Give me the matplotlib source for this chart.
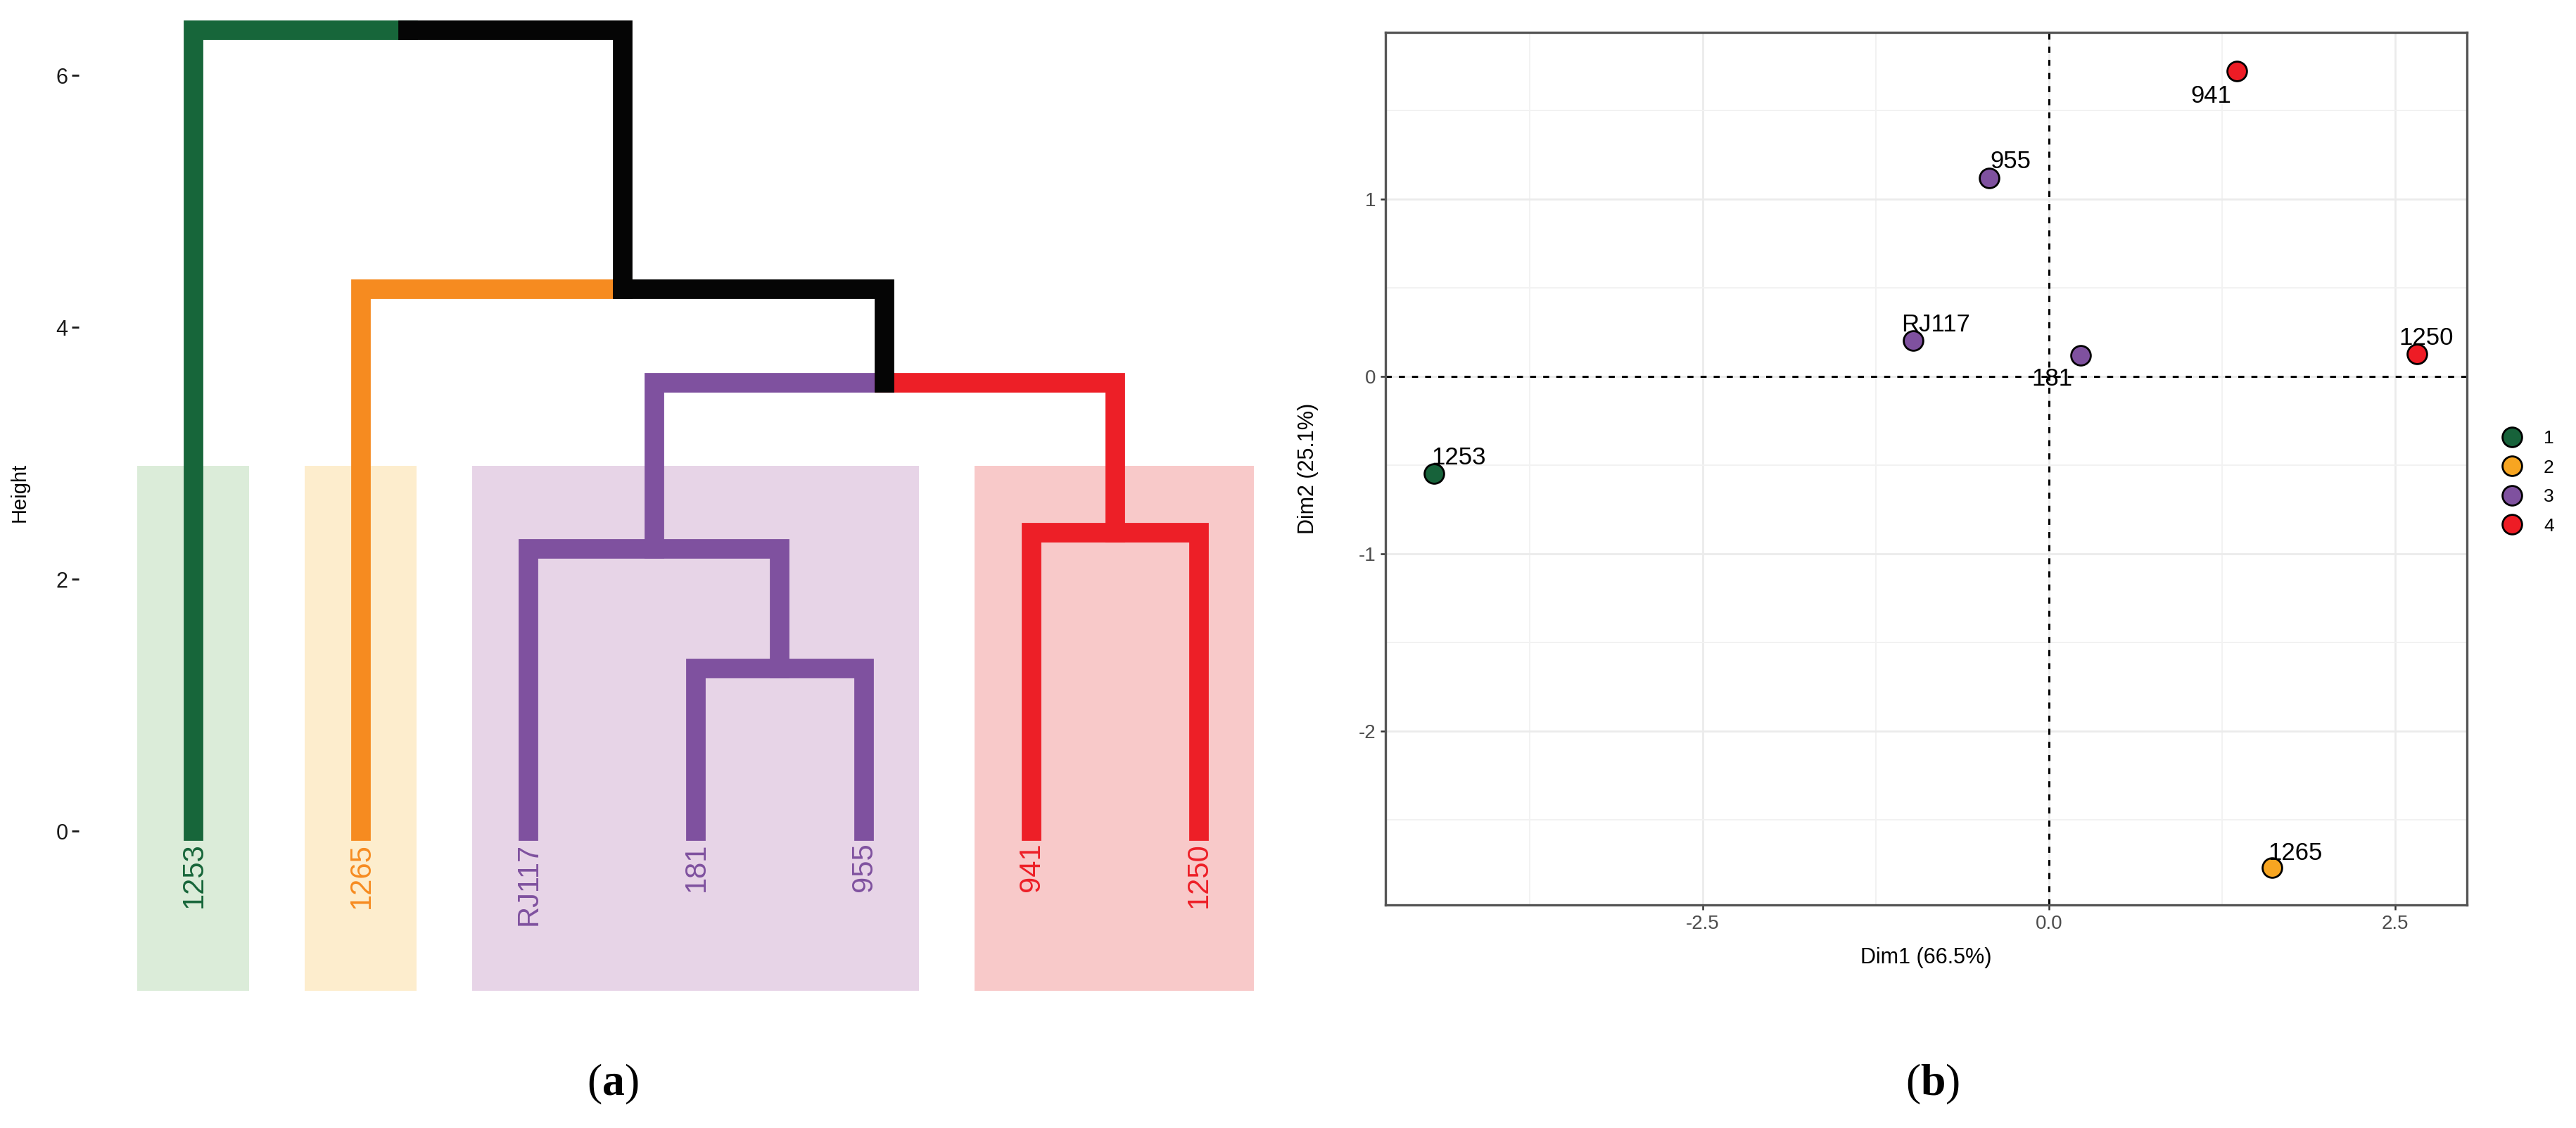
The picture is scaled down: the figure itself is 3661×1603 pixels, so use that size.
import matplotlib.pyplot as plt
from matplotlib.lines import Line2D
from matplotlib.patches import Rectangle

plt.rcParams['font.family'] = ['Liberation Sans', 'DejaVu Sans']
plt.rcParams['axes.unicode_minus'] = False
plt.rcParams['mathtext.fontset'] = 'custom'
plt.rcParams['mathtext.rm'] = 'Liberation Serif'
plt.rcParams['mathtext.bf'] = 'Liberation Serif:bold'

# ---- dendrogram data (leaf order left to right) ----
leaves = ["1253", "1265", "RJ117", "181", "955", "941", "1250"]
leaf_cluster = [1, 2, 3, 3, 3, 4, 4]
# merges: children indices (0..6 leaves, 7.. merges) and heights
merge_a = [3, 2, 5, 8, 1, 0]
merge_b = [4, 7, 6, 9, 10, 11]
merge_h = [1.29, 2.24, 2.37, 3.56, 4.30, 6.36]
height_ticks = [0, 2, 4, 6]

# ---- PCA individuals ----
pca_names = ["1253", "1265", "RJ117", "181", "955", "941", "1250"]
dim1 = [-4.44, 1.61, -0.98, 0.23, -0.43, 1.36, 2.66]
dim2 = [-0.55, -2.77, 0.20, 0.12, 1.12, 1.72, 0.125]
pca_cluster = [1, 2, 3, 3, 3, 4, 4]
cluster_names = ["1", "2", "3", "4"]

line_cols = {0: "#050505", 1: "#17663A", 2: "#F68B20", 3: "#7F519F", 4: "#ED1F27"}
rect_cols = {1: "#DBECD9", 2: "#FDEDCD", 3: "#E7D4E7", 4: "#F8C9C9"}
point_cols = {1: "#17623A", 2: "#F7A521", 3: "#7F519F", 4: "#EE1C25"}

# label offsets (points) and alignment for the PCA text labels
lab_style = {
    "1253": (-1.4, 4.7, "left"),
    "1265": (-1.8, 4.0, "left"),
    "RJ117": (-6.1, 5.0, "left"),
    "181": (-4.0, -15.5, "right"),
    "955": (0.4, 5.0, "left"),
    "941": (-2.9, -16.2, "right"),
    "1250": (-9.4, 4.7, "left"),
}

fig = plt.figure(figsize=(18.31, 8.015), dpi=200)

# ================= (a) dendrogram =================
ax1 = fig.add_axes([0.03058, 0.1069, 0.4736, 0.8877])

n = len(leaves)
node_x = [i + 1.0 for i in range(n)]
node_h = [0.0] * n
node_c = list(leaf_cluster)
for a, b, h in zip(merge_a, merge_b, merge_h):
    node_x.append((node_x[a] + node_x[b]) / 2)
    node_h.append(h)
    node_c.append(node_c[a] if node_c[a] == node_c[b] else 0)

# cluster rectangles
for k in sorted(set(leaf_cluster)):
    pos = [node_x[i] for i in range(n) if leaf_cluster[i] == k]
    x0, x1 = min(pos) - 0.34, max(pos) + 0.33
    ax1.add_patch(Rectangle((x0, -1.27), x1 - x0, 2.90 + 1.27,
                            facecolor=rect_cols[k], edgecolor="none", zorder=0))

for m, (a, b, h) in enumerate(zip(merge_a, merge_b, merge_h)):
    xm = node_x[n + m]
    for c in (a, b):
        ax1.plot([node_x[c], node_x[c], xm], [node_h[c], h, h],
                 color=line_cols[node_c[c]], lw=10,
                 solid_joinstyle="miter", solid_capstyle="projecting", zorder=2)

for i, name in enumerate(leaves):
    ax1.annotate(name, (node_x[i], 0), xytext=(0, -6), textcoords="offset points",
                 rotation=90, ha="center", va="top", fontsize=15,
                 color=line_cols[leaf_cluster[i]])

ax1.set_xlim(0.313, 7.6)
ax1.set_ylim(-1.4, 6.55)
for s in ax1.spines.values():
    s.set_visible(False)
ax1.set_xticks([])
ax1.set_yticks(height_ticks)
ax1.tick_params(axis="y", length=3.6, width=1.0, pad=2, labelsize=11,
                colors="#1a1a1a")
ax1.set_ylabel("Height", fontsize=10.5)
ax1.yaxis.set_label_coords(-0.0404, 0.514)

# ================= (b) PCA cluster plot =================
ax2 = fig.add_axes([0.5377, 0.1978, 0.4197, 0.7736])
ax2.set_xlim(-4.79, 3.02)
ax2.set_ylim(-2.98, 1.94)
ax2.set_xticks([-2.5, 0.0, 2.5])
ax2.set_xticks([-3.75, -1.25, 1.25], minor=True)
ax2.set_yticks([-2, -1, 0, 1])
ax2.set_yticks([-2.5, -1.5, -0.5, 0.5, 1.5], minor=True)
ax2.set_xticklabels(["-2.5", "0.0", "2.5"])
ax2.grid(which="major", color="#EBEBEB", lw=1.0, zorder=0)
ax2.grid(which="minor", color="#F2F2F2", lw=0.7, zorder=0)
ax2.set_axisbelow(True)
ax2.tick_params(which="major", length=2.5, width=0.9, color="#333333",
                labelsize=10, labelcolor="#4D4D4D", pad=2.5)
ax2.tick_params(which="minor", length=0)
for s in ax2.spines.values():
    s.set_color("#555555")
    s.set_linewidth(1.2)

ax2.axhline(0, color="black", lw=1.1, ls=(0, (2.8, 3.3)), zorder=1)
ax2.axvline(0, color="black", lw=1.1, ls=(0, (2.8, 3.3)), zorder=1)

for name, x, y, k in zip(pca_names, dim1, dim2, pca_cluster):
    ax2.plot(x, y, marker="o", ms=10, mfc=point_cols[k], mec="black",
             mew=1.0, ls="", zorder=3)
    dx, dy, ha = lab_style[name]
    ax2.annotate(name, (x, y), xytext=(dx, dy), textcoords="offset points",
                 ha=ha, va="baseline", fontsize=12.5, color="black", zorder=4)

ax2.set_xlabel("Dim1 (66.5%)", fontsize=11)
ax2.set_ylabel("Dim2 (25.1%)", fontsize=11)
ax2.xaxis.set_label_coords(0.5, -0.0605)
ax2.xaxis.label.set_va("center")
ax2.yaxis.set_label_coords(-0.0716, 0.5)
ax2.yaxis.label.set_va("center")

handles = [Line2D([], [], marker="o", ls="", ms=10, mfc=point_cols[k],
                  mec="black", mew=1.0) for k in (1, 2, 3, 4)]
ax2.legend(handles, cluster_names, loc="center left",
           bbox_to_anchor=(0.9713, 0.5724), bbox_transform=fig.transFigure,
           frameon=False, fontsize=9.5, labelspacing=0.66, handlelength=1.0,
           handletextpad=1.2, borderpad=0, borderaxespad=0)

# panel captions
fig.text(0.2378, 0.0387, r"($\mathbf{a}$)", family="Liberation Serif",
         fontsize=23, ha="center", va="center")
fig.text(0.7499, 0.0387, r"($\mathbf{b}$)", family="Liberation Serif",
         fontsize=23, ha="center", va="center")

fig.savefig("out.png", dpi=200)
